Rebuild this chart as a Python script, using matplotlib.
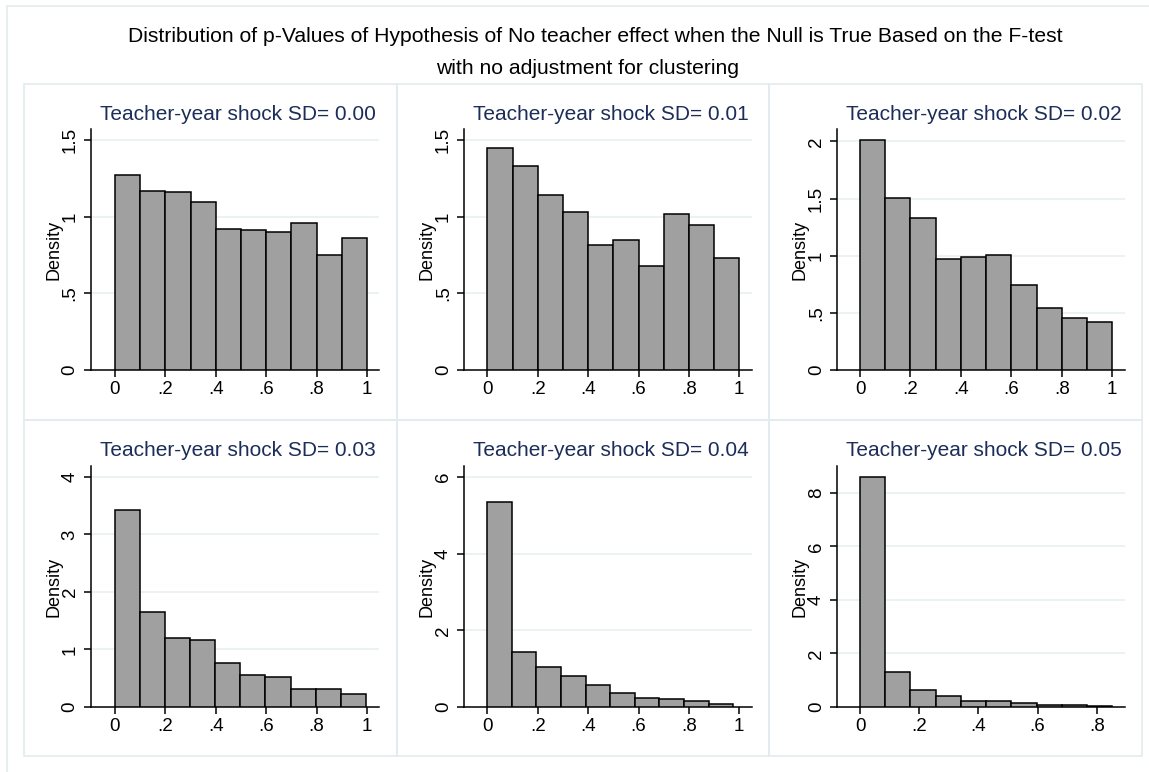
import matplotlib
matplotlib.use("Agg")
import matplotlib.pyplot as plt
from matplotlib.patches import Rectangle
import numpy as np

plt.rcParams['font.family'] = ['Liberation Sans', 'DejaVu Sans']

# ---------------- data ----------------
main_title_1 = "Distribution of p-Values of Hypothesis of No teacher effect when the Null is True Based on the F-test"
main_title_2 = "with no adjustment for clustering"
sd_labels = ["0.00", "0.01", "0.02", "0.03", "0.04", "0.05"]
bin_widths = [0.1, 0.1, 0.1, 0.0995, 0.0976, 0.0853]

dens_000 = [1.269, 1.169, 1.160, 1.099, 0.919, 0.910, 0.897, 0.962, 0.751, 0.860]
dens_001 = [1.450, 1.328, 1.139, 1.028, 0.816, 0.849, 0.679, 1.019, 0.947, 0.731]
dens_002 = [2.009, 1.507, 1.326, 0.969, 0.990, 1.007, 0.747, 0.546, 0.458, 0.418]
dens_003 = [3.419, 1.643, 1.207, 1.172, 0.772, 0.563, 0.528, 0.313, 0.313, 0.226]
dens_004 = [5.357, 1.429, 1.054, 0.819, 0.584, 0.375, 0.235, 0.209, 0.148, 0.087]
dens_005 = [8.586, 1.308, 0.636, 0.399, 0.224, 0.224, 0.137, 0.087, 0.062, 0.050]
densities = [dens_000, dens_001, dens_002, dens_003, dens_004, dens_005]

xticks_full = [0, 0.2, 0.4, 0.6, 0.8, 1.0]
xticks_short = [0, 0.2, 0.4, 0.6, 0.8]
xticks = [xticks_full, xticks_full, xticks_full, xticks_full, xticks_full, xticks_short]
yticks = [[0, 0.5, 1, 1.5], [0, 0.5, 1, 1.5], [0, 0.5, 1, 1.5, 2],
          [0, 1, 2, 3, 4], [0, 2, 4, 6], [0, 2, 4, 6, 8]]

# ---------------- layout (pixels) ----------------
W, H = 1149, 772
fig = plt.figure(figsize=(W / 100, H / 100), dpi=100)
fig.patch.set_facecolor('white')

def fx(px):
    return px / W

def fy(py):
    return 1 - py / H

frame_col = '#e3ebee'
title_col = '#1c2d5a'
bar_col = '#a0a0a0'
grid_col = '#e8f0f2'

# outer frame (right/bottom edges fall outside the image)
fig.add_artist(Rectangle((fx(7), fy(900)), fx(1300), (900 - 6) / H,
                         transform=fig.transFigure, fill=False,
                         edgecolor=frame_col, linewidth=1.2))

col_x = [(91, 379, 115, 252), (464.3, 752.3, 487.3, 252), (837.3, 1124.7, 860, 252.3)]
row_y = [(370, 129), (707, 466)]
ytops = [1.572, 1.572, 2.108, 4.19, 6.29, 9.0]
panel_boxes_x = [(24, 397), (397, 769), (769, 1142)]
panel_boxes_y = [(84, 420), (420, 756)]


def fmt(v):
    s = f"{v:g}"
    if s.startswith("0."):
        s = s[1:]
    return s


for i in range(6):
    r, c = divmod(i, 3)
    left, right, x0, ppu = col_x[c]
    if i == 5:
        ppu = 296
    ybot, ytop_px = row_y[r]
    bx0, bx1 = panel_boxes_x[c]
    by0, by1 = panel_boxes_y[r]
    fig.add_artist(Rectangle((fx(bx0), fy(by1)), fx(bx1 - bx0), (by1 - by0) / H,
                             transform=fig.transFigure, fill=False,
                             edgecolor=frame_col, linewidth=1.2))

    ax = fig.add_axes([fx(left), fy(ybot), fx(right - left), (ybot - ytop_px) / H])
    ax.set_facecolor('none')
    d = np.array(densities[i])
    bw = bin_widths[i]
    edges = np.arange(len(d)) * bw
    ax.bar(edges, d, width=bw, align='edge', color=bar_col, edgecolor='black',
           linewidth=1.1, zorder=3)
    ax.set_xlim((left - x0) / ppu, (right - x0) / ppu)
    ax.set_ylim(0, ytops[i])

    ax.set_xticks(xticks[i])
    ax.set_xticklabels([fmt(v) for v in xticks[i]])
    ax.set_yticks(yticks[i])
    ax.set_yticklabels([fmt(v) for v in yticks[i]], rotation=90, va='center')
    for v in yticks[i][1:]:
        ax.axhline(v, color=grid_col, linewidth=1.2, zorder=1)
    for s in ['top', 'right']:
        ax.spines[s].set_visible(False)
    for s in ['left', 'bottom']:
        ax.spines[s].set_linewidth(1.1)
        ax.spines[s].set_color('black')
    ax.tick_params(axis='both', length=5, width=1.1, labelsize=13.5, color='black')
    ax.tick_params(axis='x', pad=3)
    ax.tick_params(axis='y', pad=4)
    ax.set_ylabel("Density", fontsize=13)
    ax.yaxis.set_label_coords(-37.5 / (right - left), 0.5)
    ax.yaxis.label.set_va('center')

    ty = 115 if r == 0 else 451
    fig.text(fx((left + right) / 2 + 3), fy(ty), f"Teacher-year shock SD= {sd_labels[i]}",
             ha='center', va='center', fontsize=15, color=title_col)

fig.text(fx(595), fy(37), main_title_1, ha='center', va='center', fontsize=15.2, color='black')
fig.text(fx(588), fy(68), main_title_2, ha='center', va='center', fontsize=15.2, color='black')

fig.savefig("out.png", dpi=100)
